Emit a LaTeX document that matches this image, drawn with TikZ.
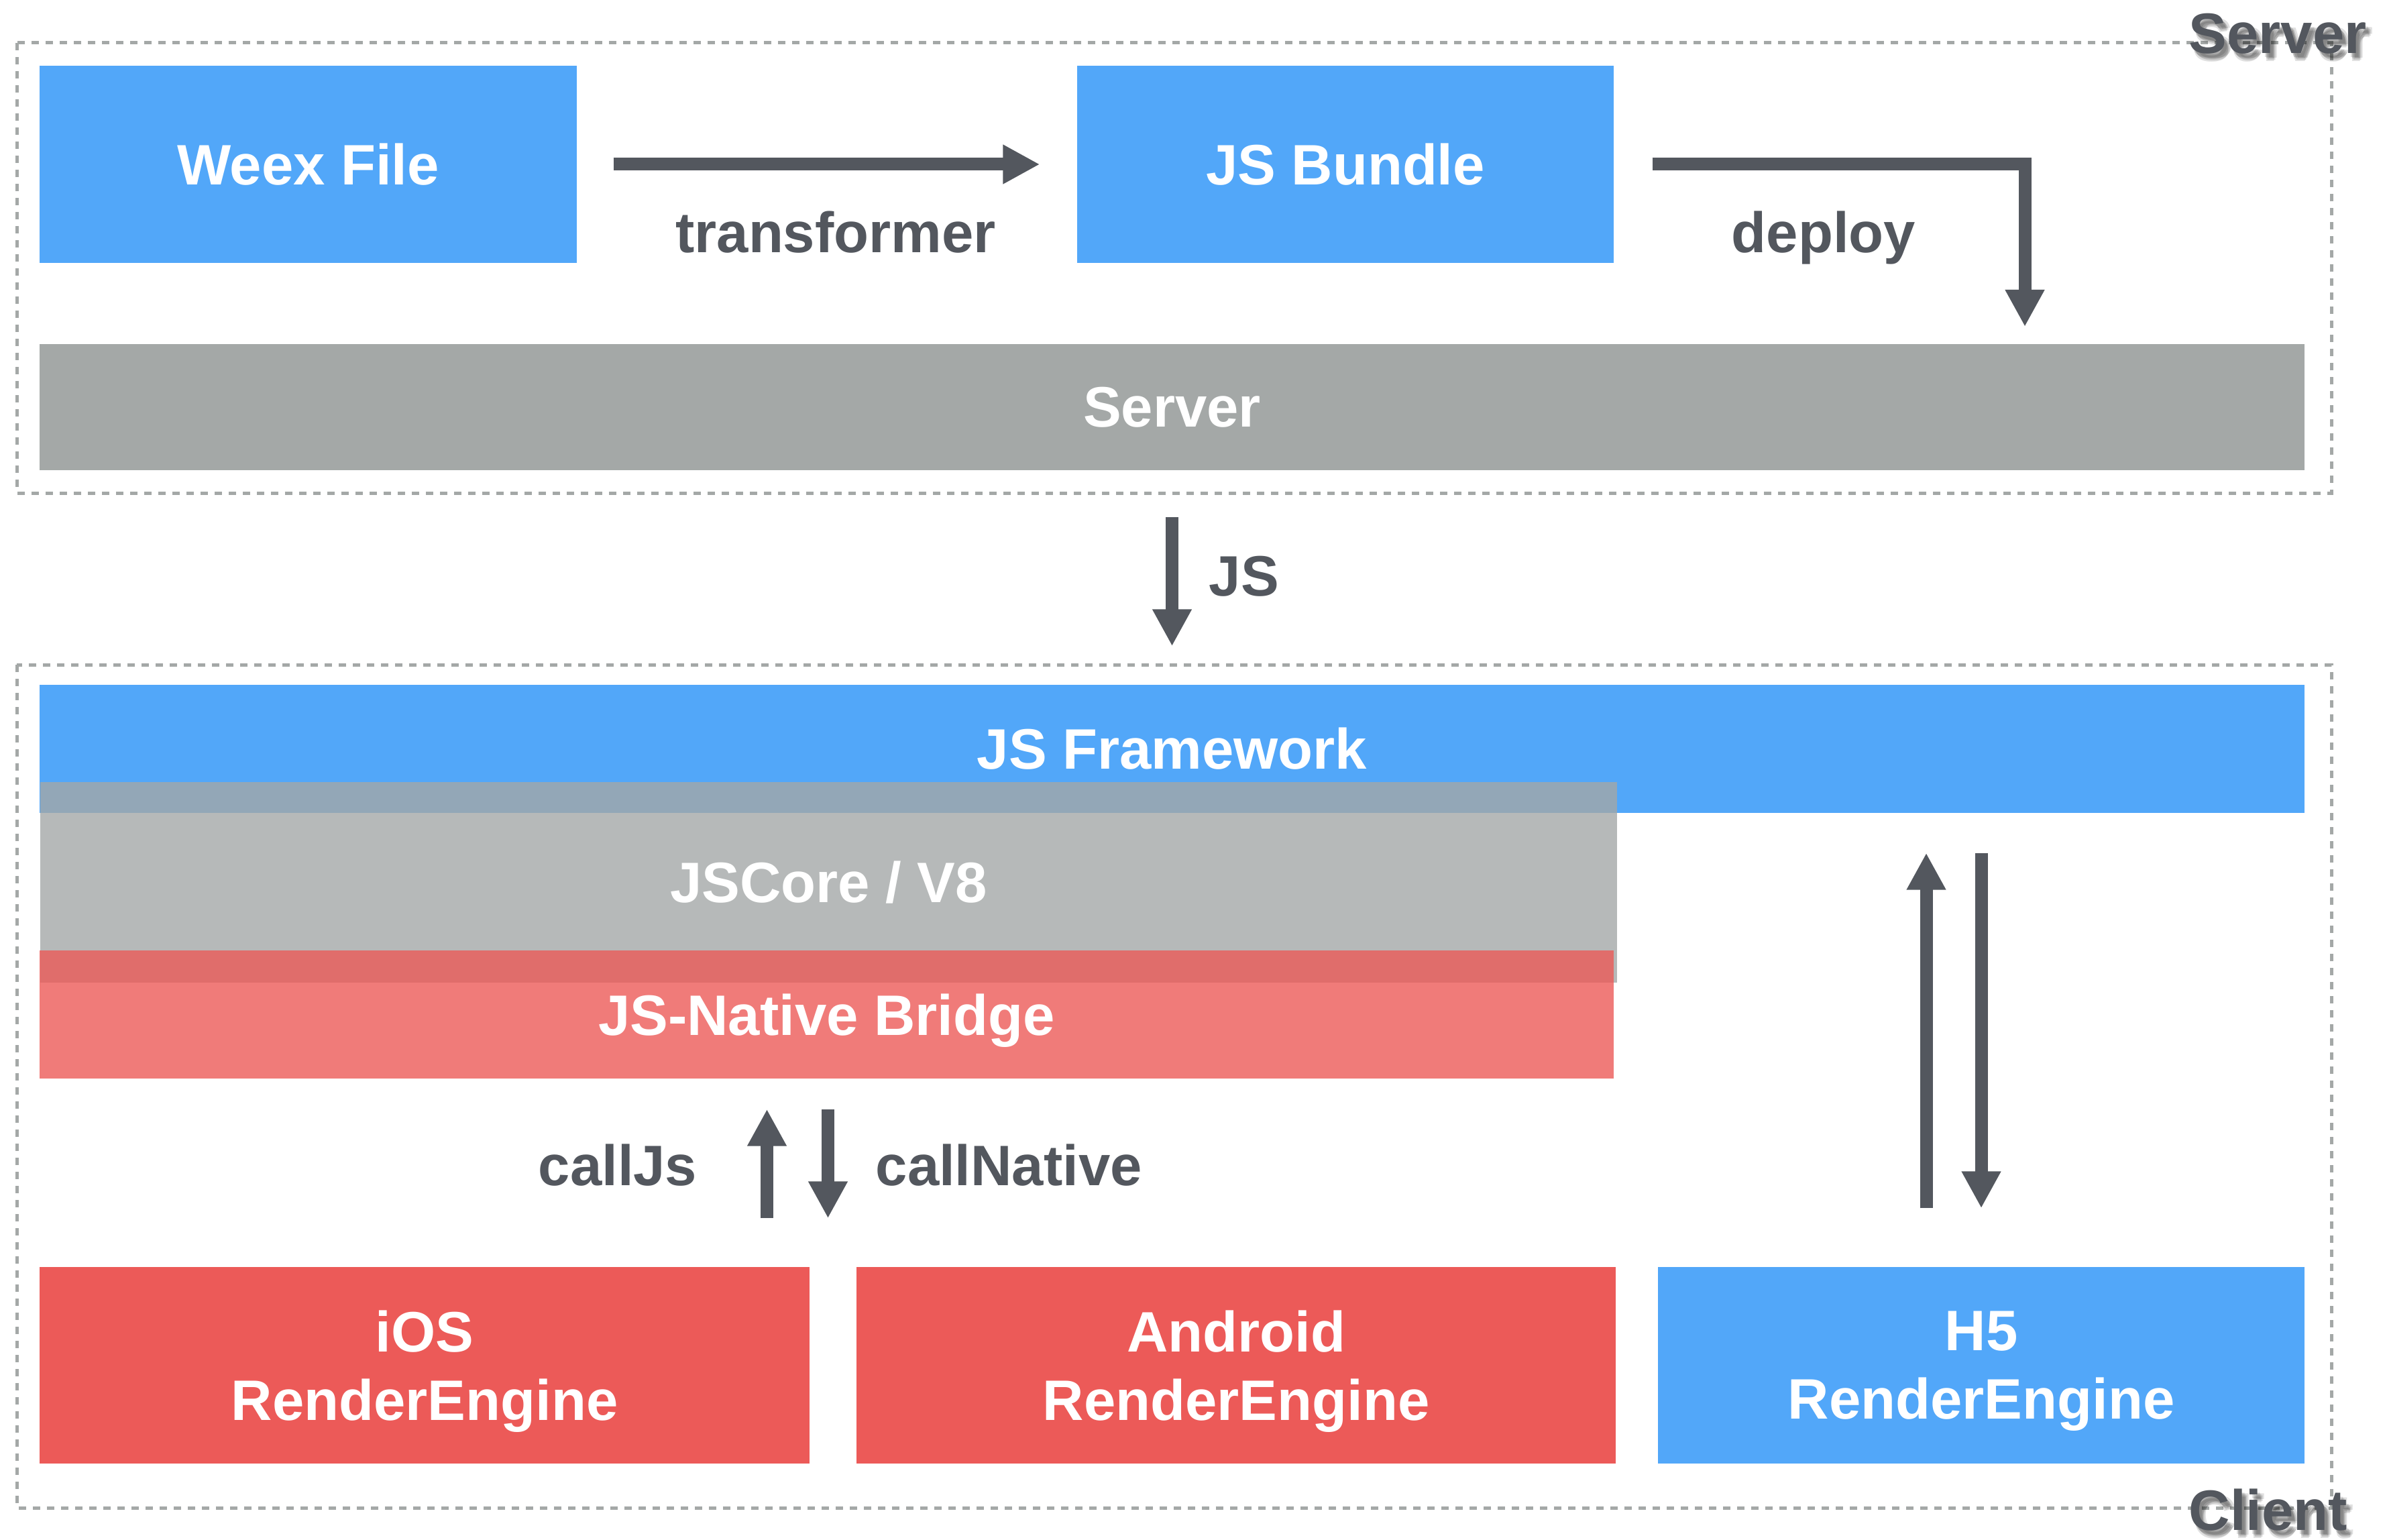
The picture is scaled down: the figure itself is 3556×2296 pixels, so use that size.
\documentclass[tikz,border=0pt]{standalone}
\usepackage{fontspec}
\setmainfont{Liberation Sans}
\usetikzlibrary{arrows.meta}

\definecolor{wxblue}{HTML}{52A7F9}
\definecolor{wxgray}{HTML}{A4A8A7}
\definecolor{wxred}{HTML}{EC5A58}
\definecolor{wxdark}{HTML}{53575E}

\begin{document}
\begin{tikzpicture}[x=0.1mm, y=-0.1mm]
        \tikzstyle{every node}=[font=\fontsize{24.2}{29}\selectfont\bfseries, inner sep=0pt]
        \tikzstyle{block}=[rectangle, text=white, align=center, text opacity=1]
        \tikzstyle{flow}=[draw=wxdark, line width=1.9mm, -{Triangle[width=5.5mm, length=5.5mm]}]
        \tikzstyle{flowtext}=[text=wxdark, anchor=base]
        \tikzstyle{zone}=[draw=wxgray, line width=0.5mm, dash pattern=on 1.1mm off 1mm]

        \useasboundingbox (0,0) rectangle (3556,2296);

        % dashed zones
        \draw [zone] (25,64) rectangle (3476,735);
        \draw [zone] (25,991) rectangle (3476,2248);

        % server side
        \path (459.5,245) node[block, fill=wxblue, minimum width=80.1mm, minimum height=29.4mm] (weex) {Weex File};
        \path (2006,245) node[block, fill=wxblue, minimum width=80mm, minimum height=29.4mm] (bundle) {JS Bundle};
        \path (1747.5,607) node[block, fill=wxgray, minimum width=337.7mm, minimum height=18.8mm] (server) {Server};
        \coordinate (deployend) at (3019,487);

        \draw [flow, shorten <=5.4mm, shorten >=5.5mm] (weex) -- (bundle);
        \draw [flow] ([xshift=5.7mm]bundle.east) -| (deployend);
        \path (1246,377) node[flowtext] (transformer) {transformer};
        \path (2719,377) node[flowtext] (deploy) {deploy};

        % client side
        \path (1747.5,1116.5) node[block, fill=wxblue, minimum width=337.7mm, minimum height=19.1mm] (jsfw) {JS Framework};
        \path (1235.5,1315.5) node[block, fill=wxgray, fill opacity=0.8, minimum width=235.1mm, minimum height=29.9mm] (jscore) {JSCore / V8};
        \path (1232.5,1512.5) node[block, fill=wxred, fill opacity=0.8, text depth=0pt, minimum width=234.7mm, minimum height=19.1mm] (bridge) {JS-Native Bridge};

        \foreach \name/\cx/\w/\col/\txt in {ios/633/114.8/wxred/iOS, android/1843/113.2/wxred/Android, h5/2954/96.4/wxblue/H5}
        {
          \path (\cx,2035.5) node[block, fill=\col, text depth=0pt, minimum width=\w mm, minimum height=29.3mm] (\name) {\txt\\RenderEngine};
        }

        \draw [flow, shorten <=6.9mm, shorten >=5.7mm] (server) -- (jsfw);
        \path (1802,888) node[flowtext, anchor=base west] (js) {JS};

        \draw [flow, shorten <=7.2mm, shorten >=4.5mm]
          ([xshift=-8.9mm]bridge.south |- ios.north) -- ([xshift=-8.9mm]bridge.south);
        \draw [flow, shorten <=4.5mm, shorten >=7.2mm]
          ([xshift=0.2mm]bridge.south) -- ([xshift=0.2mm]bridge.south |- ios.north);
        \path (1040,1767) node[flowtext, anchor=base east] (calljs) {callJs};
        \path (1305,1767) node[flowtext, anchor=base west] (callnative) {callNative};

        \draw [flow, shorten <=8.7mm, shorten >=5.9mm]
          ([xshift=-8.2mm]h5.north) -- ([xshift=-8.2mm]h5.north |- jsfw.south);
        \draw [flow, shorten <=5.9mm, shorten >=8.7mm]
          (h5.north |- jsfw.south) -- (h5.north);

        % zone titles with a soft shadow
        \foreach \i/\dx/\dy in {1/4/6, 2/8/10, 3/6/12, 4/10/7, 5/6/8}
        {
          \path (3263+\dx,80+\dy) node[anchor=base west, text=black, text opacity=0.12] (servershade\i) {Server};
          \path (3263+\dx,2281+\dy) node[anchor=base west, text=black, text opacity=0.12] (clientshade\i) {Client};
        }
        \path (3263,80) node[flowtext, anchor=base west] (servertitle) {Server};
        \path (3263,2281) node[flowtext, anchor=base west] (clienttitle) {Client};
      \end{tikzpicture}
\end{document}
